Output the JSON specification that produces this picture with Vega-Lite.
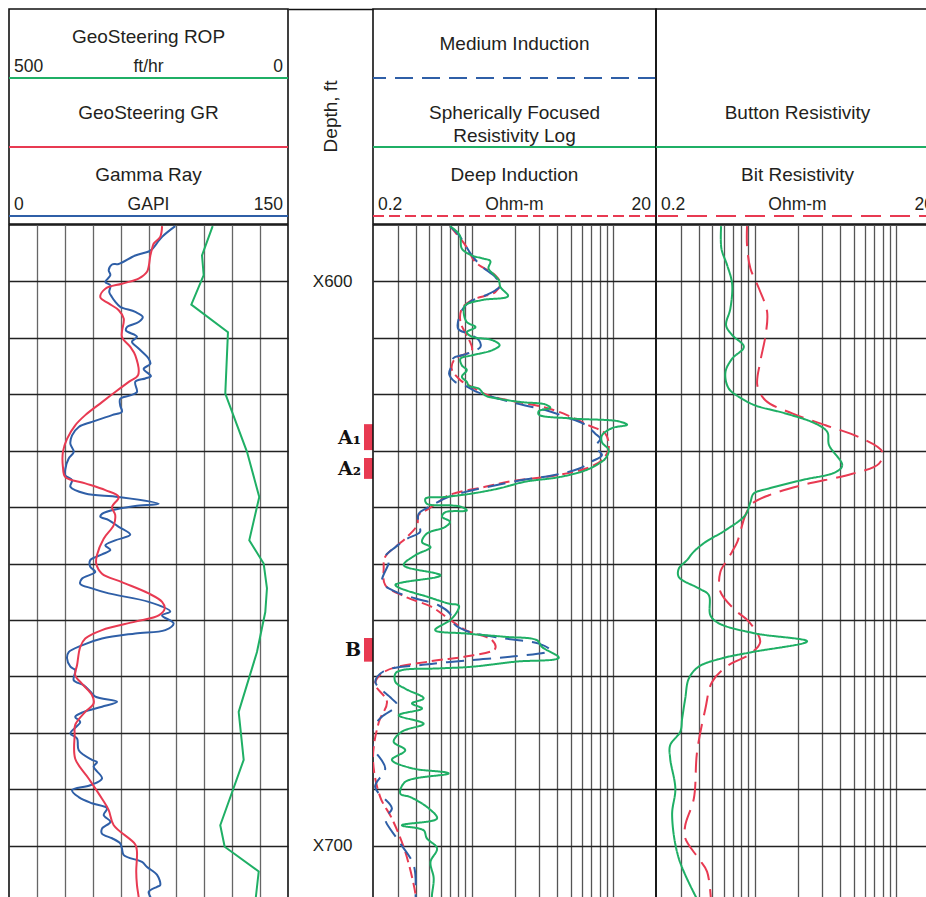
{
"$schema": "https://vega.github.io/schema/vega-lite/v6.json",
"padding": {"left": 7, "top": 8, "right": 0, "bottom": 0},
"background": "white",
"config": {
  "view": {"stroke": "#111111", "strokeWidth": 1.6},
  "axis": {"minExtent": 0},
  "text": {"font": "Liberation Sans", "color": "#231f20"}
},
"datasets": {
  "hdrLeft": [
    {"curve": "GeoSteering ROP", "title": "GeoSteering ROP", "lo": "500", "units": "ft/hr", "hi": "0"},
    {"curve": "GeoSteering GR", "title": "GeoSteering GR"},
    {"curve": "Gamma Ray", "title": "Gamma Ray", "lo": "0", "units": "GAPI", "hi": "150"}
  ],
  "hdrMid": [
    {"curve": "Medium Induction", "title": "Medium Induction"},
    {"curve": "Spherically Focused Resistivity Log", "title": "Spherically Focused\nResistivity Log"},
    {"curve": "Deep Induction", "title": "Deep Induction", "lo": "0.2", "units": "Ohm-m", "hi": "20"}
  ],
  "hdrRight": [
    {"curve": "Button Resistivity", "title": "Button Resistivity"},
    {"curve": "Bit Resistivity", "title": "Bit Resistivity", "lo": "0.2", "units": "Ohm-m", "hi": "20"}
  ],
  "zones": [
    {"zone": "A₁", "top": 625.3, "bottom": 629.9, "mid": 627.8},
    {"zone": "A₂", "top": 631.3, "bottom": 635.0, "mid": 633.3},
    {"zone": "B", "top": 663.2, "bottom": 667.4, "mid": 665.3}
  ],
  "logs": [
    {"curve":"Gamma Ray","depth":590.2,"value":89.4},{"curve":"Gamma Ray","depth":592.1,"value":82.3},{"curve":"Gamma Ray","depth":594.3,"value":76.9},{"curve":"Gamma Ray","depth":594.7,"value":75.1},{"curve":"Gamma Ray","depth":595.4,"value":67.9},{"curve":"Gamma Ray","depth":596.9,"value":59.0},{"curve":"Gamma Ray","depth":597.0,"value":55.4},{"curve":"Gamma Ray","depth":598.0,"value":53.6},{"curve":"Gamma Ray","depth":598.9,"value":54.5},{"curve":"Gamma Ray","depth":600.1,"value":51.8},{"curve":"Gamma Ray","depth":600.7,"value":54.5},{"curve":"Gamma Ray","depth":601.9,"value":53.9},{"curve":"Gamma Ray","depth":602.8,"value":55.4},{"curve":"Gamma Ray","depth":603.6,"value":57.1},{"curve":"Gamma Ray","depth":604.5,"value":59.8},{"curve":"Gamma Ray","depth":605.4,"value":67.9},{"curve":"Gamma Ray","depth":606.3,"value":71.9},{"curve":"Gamma Ray","depth":607.2,"value":69.7},{"curve":"Gamma Ray","depth":608.1,"value":63.4},{"curve":"Gamma Ray","depth":608.7,"value":62.9},{"curve":"Gamma Ray","depth":609.8,"value":68.8},{"curve":"Gamma Ray","depth":610.7,"value":66.1},{"curve":"Gamma Ray","depth":611.9,"value":69.7},{"curve":"Gamma Ray","depth":613.7,"value":75.1},{"curve":"Gamma Ray","depth":614.6,"value":76.0},{"curve":"Gamma Ray","depth":615.5,"value":72.4},{"curve":"Gamma Ray","depth":616.8,"value":76.3},{"curve":"Gamma Ray","depth":617.2,"value":73.3},{"curve":"Gamma Ray","depth":617.8,"value":67.9},{"curve":"Gamma Ray","depth":619.6,"value":68.8},{"curve":"Gamma Ray","depth":620.2,"value":65.2},{"curve":"Gamma Ray","depth":620.8,"value":59.8},{"curve":"Gamma Ray","depth":622.0,"value":59.8},{"curve":"Gamma Ray","depth":623.1,"value":60.7},{"curve":"Gamma Ray","depth":623.7,"value":55.4},{"curve":"Gamma Ray","depth":624.9,"value":44.6},{"curve":"Gamma Ray","depth":625.8,"value":37.5},{"curve":"Gamma Ray","depth":627.3,"value":33.9},{"curve":"Gamma Ray","depth":628.8,"value":33.0},{"curve":"Gamma Ray","depth":630.2,"value":34.8},{"curve":"Gamma Ray","depth":631.4,"value":32.1},{"curve":"Gamma Ray","depth":633.2,"value":30.3},{"curve":"Gamma Ray","depth":634.4,"value":30.3},{"curve":"Gamma Ray","depth":635.2,"value":33.9},{"curve":"Gamma Ray","depth":636.4,"value":33.0},{"curve":"Gamma Ray","depth":637.6,"value":41.0},{"curve":"Gamma Ray","depth":638.2,"value":59.0},{"curve":"Gamma Ray","depth":639.4,"value":80.5},{"curve":"Gamma Ray","depth":639.8,"value":67.9},{"curve":"Gamma Ray","depth":640.3,"value":59.0},{"curve":"Gamma Ray","depth":641.2,"value":50.0},{"curve":"Gamma Ray","depth":641.7,"value":49.1},{"curve":"Gamma Ray","depth":642.3,"value":53.6},{"curve":"Gamma Ray","depth":643.5,"value":59.0},{"curve":"Gamma Ray","depth":644.9,"value":65.2},{"curve":"Gamma Ray","depth":645.9,"value":57.1},{"curve":"Gamma Ray","depth":646.8,"value":51.8},{"curve":"Gamma Ray","depth":647.6,"value":54.5},{"curve":"Gamma Ray","depth":648.4,"value":50.0},{"curve":"Gamma Ray","depth":649.4,"value":43.7},{"curve":"Gamma Ray","depth":650.6,"value":43.7},{"curve":"Gamma Ray","depth":651.5,"value":46.4},{"curve":"Gamma Ray","depth":652.7,"value":39.2},{"curve":"Gamma Ray","depth":653.6,"value":38.3},{"curve":"Gamma Ray","depth":654.4,"value":44.6},{"curve":"Gamma Ray","depth":655.3,"value":53.6},{"curve":"Gamma Ray","depth":656.8,"value":75.1},{"curve":"Gamma Ray","depth":658.5,"value":86.7},{"curve":"Gamma Ray","depth":659.2,"value":82.3},{"curve":"Gamma Ray","depth":660.6,"value":88.5},{"curve":"Gamma Ray","depth":661.8,"value":84.0},{"curve":"Gamma Ray","depth":662.4,"value":67.9},{"curve":"Gamma Ray","depth":663.3,"value":50.0},{"curve":"Gamma Ray","depth":664.5,"value":39.2},{"curve":"Gamma Ray","depth":665.7,"value":32.1},{"curve":"Gamma Ray","depth":666.8,"value":31.2},{"curve":"Gamma Ray","depth":668.3,"value":33.0},{"curve":"Gamma Ray","depth":668.9,"value":35.6},{"curve":"Gamma Ray","depth":670.7,"value":34.8},{"curve":"Gamma Ray","depth":671.6,"value":40.2},{"curve":"Gamma Ray","depth":672.7,"value":43.7},{"curve":"Gamma Ray","depth":673.6,"value":46.4},{"curve":"Gamma Ray","depth":674.5,"value":58.1},{"curve":"Gamma Ray","depth":675.4,"value":50.0},{"curve":"Gamma Ray","depth":676.3,"value":40.2},{"curve":"Gamma Ray","depth":677.2,"value":35.6},{"curve":"Gamma Ray","depth":678.1,"value":38.3},{"curve":"Gamma Ray","depth":680.1,"value":33.0},{"curve":"Gamma Ray","depth":681.0,"value":36.6},{"curve":"Gamma Ray","depth":683.1,"value":37.5},{"curve":"Gamma Ray","depth":684.8,"value":44.6},{"curve":"Gamma Ray","depth":685.2,"value":47.3},{"curve":"Gamma Ray","depth":686.0,"value":45.5},{"curve":"Gamma Ray","depth":688.1,"value":50.0},{"curve":"Gamma Ray","depth":689.3,"value":43.7},{"curve":"Gamma Ray","depth":690.2,"value":33.9},{"curve":"Gamma Ray","depth":691.4,"value":37.5},{"curve":"Gamma Ray","depth":692.5,"value":44.6},{"curve":"Gamma Ray","depth":693.4,"value":52.7},{"curve":"Gamma Ray","depth":694.6,"value":50.9},{"curve":"Gamma Ray","depth":695.8,"value":54.5},{"curve":"Gamma Ray","depth":697.0,"value":50.0},{"curve":"Gamma Ray","depth":697.9,"value":50.0},{"curve":"Gamma Ray","depth":698.7,"value":55.4},{"curve":"Gamma Ray","depth":699.6,"value":59.8},{"curve":"Gamma Ray","depth":700.5,"value":60.7},{"curve":"Gamma Ray","depth":701.7,"value":61.7},{"curve":"Gamma Ray","depth":702.9,"value":71.5},{"curve":"Gamma Ray","depth":703.8,"value":74.2},{"curve":"Gamma Ray","depth":705.2,"value":79.6},{"curve":"Gamma Ray","depth":707.0,"value":81.3},{"curve":"Gamma Ray","depth":707.3,"value":79.6},{"curve":"Gamma Ray","depth":708.2,"value":75.1},{"curve":"Gamma Ray","depth":709.1,"value":76.0},{"curve":"Gamma Ray","depth":710.0,"value":77.0},

    {"curve":"GeoSteering GR","depth":590.2,"value":82.3},{"curve":"GeoSteering GR","depth":592.1,"value":81.3},{"curve":"GeoSteering GR","depth":593.3,"value":77.8},{"curve":"GeoSteering GR","depth":594.2,"value":76.9},{"curve":"GeoSteering GR","depth":595.4,"value":76.0},{"curve":"GeoSteering GR","depth":598.3,"value":74.2},{"curve":"GeoSteering GR","depth":599.5,"value":69.7},{"curve":"GeoSteering GR","depth":600.4,"value":60.7},{"curve":"GeoSteering GR","depth":601.3,"value":51.8},{"curve":"GeoSteering GR","depth":602.8,"value":49.1},{"curve":"GeoSteering GR","depth":603.9,"value":53.6},{"curve":"GeoSteering GR","depth":605.1,"value":59.0},{"curve":"GeoSteering GR","depth":606.6,"value":61.7},{"curve":"GeoSteering GR","depth":609.8,"value":60.7},{"curve":"GeoSteering GR","depth":611.6,"value":65.2},{"curve":"GeoSteering GR","depth":613.1,"value":67.9},{"curve":"GeoSteering GR","depth":616.6,"value":69.4},{"curve":"GeoSteering GR","depth":617.8,"value":64.4},{"curve":"GeoSteering GR","depth":619.6,"value":57.1},{"curve":"GeoSteering GR","depth":621.4,"value":50.0},{"curve":"GeoSteering GR","depth":623.7,"value":41.0},{"curve":"GeoSteering GR","depth":625.5,"value":35.6},{"curve":"GeoSteering GR","depth":627.9,"value":31.2},{"curve":"GeoSteering GR","depth":630.2,"value":29.0},{"curve":"GeoSteering GR","depth":632.9,"value":29.0},{"curve":"GeoSteering GR","depth":634.7,"value":30.3},{"curve":"GeoSteering GR","depth":635.8,"value":41.0},{"curve":"GeoSteering GR","depth":637.0,"value":51.8},{"curve":"GeoSteering GR","depth":638.2,"value":59.0},{"curve":"GeoSteering GR","depth":640.0,"value":55.4},{"curve":"GeoSteering GR","depth":641.4,"value":57.1},{"curve":"GeoSteering GR","depth":643.2,"value":56.3},{"curve":"GeoSteering GR","depth":645.6,"value":50.9},{"curve":"GeoSteering GR","depth":648.5,"value":47.3},{"curve":"GeoSteering GR","depth":650.0,"value":46.9},{"curve":"GeoSteering GR","depth":651.8,"value":50.0},{"curve":"GeoSteering GR","depth":653.3,"value":60.7},{"curve":"GeoSteering GR","depth":655.3,"value":75.1},{"curve":"GeoSteering GR","depth":656.8,"value":82.3},{"curve":"GeoSteering GR","depth":658.0,"value":83.7},{"curve":"GeoSteering GR","depth":659.2,"value":80.5},{"curve":"GeoSteering GR","depth":660.3,"value":67.9},{"curve":"GeoSteering GR","depth":661.8,"value":50.0},{"curve":"GeoSteering GR","depth":663.3,"value":41.0},{"curve":"GeoSteering GR","depth":664.8,"value":38.3},{"curve":"GeoSteering GR","depth":668.0,"value":36.6},{"curve":"GeoSteering GR","depth":669.8,"value":35.6},{"curve":"GeoSteering GR","depth":671.3,"value":39.2},{"curve":"GeoSteering GR","depth":673.3,"value":44.6},{"curve":"GeoSteering GR","depth":674.8,"value":45.5},{"curve":"GeoSteering GR","depth":676.3,"value":41.0},{"curve":"GeoSteering GR","depth":678.6,"value":35.6},{"curve":"GeoSteering GR","depth":680.4,"value":35.3},{"curve":"GeoSteering GR","depth":684.6,"value":35.6},{"curve":"GeoSteering GR","depth":688.1,"value":42.8},{"curve":"GeoSteering GR","depth":691.7,"value":50.0},{"curve":"GeoSteering GR","depth":693.7,"value":53.6},{"curve":"GeoSteering GR","depth":696.4,"value":56.3},{"curve":"GeoSteering GR","depth":699.8,"value":67.9},{"curve":"GeoSteering GR","depth":701.1,"value":68.8},{"curve":"GeoSteering GR","depth":704.6,"value":68.4},{"curve":"GeoSteering GR","depth":707.0,"value":68.8},{"curve":"GeoSteering GR","depth":709.1,"value":69.7},{"curve":"GeoSteering GR","depth":710.0,"value":70.0},

    {"curve":"GeoSteering ROP","depth":590.2,"value":135.0},{"curve":"GeoSteering ROP","depth":595.4,"value":154.1},{"curve":"GeoSteering ROP","depth":598.9,"value":151.1},{"curve":"GeoSteering ROP","depth":604.1,"value":173.3},{"curve":"GeoSteering ROP","depth":609.0,"value":107.6},{"curve":"GeoSteering ROP","depth":619.9,"value":112.4},{"curve":"GeoSteering ROP","depth":630.2,"value":73.5},{"curve":"GeoSteering ROP","depth":638.2,"value":51.5},{"curve":"GeoSteering ROP","depth":645.9,"value":69.4},{"curve":"GeoSteering ROP","depth":650.0,"value":43.6},{"curve":"GeoSteering ROP","depth":654.4,"value":37.7},{"curve":"GeoSteering ROP","depth":658.6,"value":40.7},{"curve":"GeoSteering ROP","depth":665.7,"value":55.6},{"curve":"GeoSteering ROP","depth":676.3,"value":88.4},{"curve":"GeoSteering ROP","depth":684.8,"value":79.4},{"curve":"GeoSteering ROP","depth":696.4,"value":121.4},{"curve":"GeoSteering ROP","depth":700.2,"value":113.5},{"curve":"GeoSteering ROP","depth":704.6,"value":52.5},{"curve":"GeoSteering ROP","depth":710.0,"value":58.6},

    {"curve":"Medium Induction","depth":590.2,"value":0.70},{"curve":"Medium Induction","depth":591.8,"value":0.81},{"curve":"Medium Induction","depth":595.4,"value":1.00},{"curve":"Medium Induction","depth":597.4,"value":1.18},{"curve":"Medium Induction","depth":599.2,"value":1.46},{"curve":"Medium Induction","depth":600.7,"value":1.59},{"curve":"Medium Induction","depth":601.6,"value":1.46},{"curve":"Medium Induction","depth":602.5,"value":1.24},{"curve":"Medium Induction","depth":603.6,"value":0.97},{"curve":"Medium Induction","depth":605.1,"value":0.85},{"curve":"Medium Induction","depth":608.4,"value":0.80},{"curve":"Medium Induction","depth":609.3,"value":0.95},{"curve":"Medium Induction","depth":610.4,"value":1.12},{"curve":"Medium Induction","depth":611.6,"value":1.15},{"curve":"Medium Induction","depth":612.5,"value":1.00},{"curve":"Medium Induction","depth":613.1,"value":0.85},{"curve":"Medium Induction","depth":613.6,"value":0.74},{"curve":"Medium Induction","depth":614.9,"value":0.72},{"curve":"Medium Induction","depth":616.4,"value":0.69},{"curve":"Medium Induction","depth":617.8,"value":0.76},{"curve":"Medium Induction","depth":618.5,"value":0.90},{"curve":"Medium Induction","depth":619.5,"value":1.06},{"curve":"Medium Induction","depth":620.3,"value":1.31},{"curve":"Medium Induction","depth":621.1,"value":1.72},{"curve":"Medium Induction","depth":622.0,"value":2.38},{"curve":"Medium Induction","depth":622.8,"value":3.30},{"curve":"Medium Induction","depth":624.0,"value":4.57},{"curve":"Medium Induction","depth":625.4,"value":6.33},{"curve":"Medium Induction","depth":627.0,"value":7.45},{"curve":"Medium Induction","depth":627.9,"value":8.08},{"curve":"Medium Induction","depth":629.3,"value":7.45},{"curve":"Medium Induction","depth":630.8,"value":8.30},{"curve":"Medium Induction","depth":631.9,"value":7.06},{"curve":"Medium Induction","depth":633.2,"value":5.68},{"curve":"Medium Induction","depth":634.4,"value":3.68},{"curve":"Medium Induction","depth":635.2,"value":2.26},{"curve":"Medium Induction","depth":636.4,"value":1.31},{"curve":"Medium Induction","depth":637.3,"value":0.90},{"curve":"Medium Induction","depth":638.2,"value":0.685},{"curve":"Medium Induction","depth":640.0,"value":0.495},{"curve":"Medium Induction","depth":641.2,"value":0.42},{"curve":"Medium Induction","depth":642.9,"value":0.42},{"curve":"Medium Induction","depth":644.4,"value":0.43},{"curve":"Medium Induction","depth":645.6,"value":0.348},{"curve":"Medium Induction","depth":647.1,"value":0.288},{"curve":"Medium Induction","depth":648.8,"value":0.244},{"curve":"Medium Induction","depth":649.7,"value":0.258},{"curve":"Medium Induction","depth":653.3,"value":0.232},{"curve":"Medium Induction","depth":655.0,"value":0.288},{"curve":"Medium Induction","depth":656.2,"value":0.40},{"curve":"Medium Induction","depth":657.4,"value":0.58},{"curve":"Medium Induction","depth":658.9,"value":0.70},{"curve":"Medium Induction","depth":660.6,"value":0.74},{"curve":"Medium Induction","depth":662.1,"value":0.95},{"curve":"Medium Induction","depth":663.3,"value":1.72},{"curve":"Medium Induction","depth":664.2,"value":2.97},{"curve":"Medium Induction","depth":665.4,"value":3.58},{"curve":"Medium Induction","depth":666.5,"value":1.92},{"curve":"Medium Induction","depth":667.1,"value":1.00},{"curve":"Medium Induction","depth":667.9,"value":0.47},{"curve":"Medium Induction","depth":669.1,"value":0.238},{"curve":"Medium Induction","depth":671.0,"value":0.208},{"curve":"Medium Induction","depth":673.9,"value":0.27},{"curve":"Medium Induction","depth":675.1,"value":0.296},{"curve":"Medium Induction","depth":677.2,"value":0.23},{"curve":"Medium Induction","depth":679.2,"value":0.20},{"curve":"Medium Induction","depth":682.5,"value":0.20},{"curve":"Medium Induction","depth":686.3,"value":0.244},{"curve":"Medium Induction","depth":689.6,"value":0.207},{"curve":"Medium Induction","depth":693.4,"value":0.272},{"curve":"Medium Induction","depth":695.2,"value":0.244},{"curve":"Medium Induction","depth":699.0,"value":0.30},{"curve":"Medium Induction","depth":703.5,"value":0.388},{"curve":"Medium Induction","depth":708.8,"value":0.40},{"curve":"Medium Induction","depth":710.0,"value":0.40},

    {"curve":"Deep Induction","depth":590.2,"value":0.70},{"curve":"Deep Induction","depth":593.6,"value":0.90},{"curve":"Deep Induction","depth":596.6,"value":1.06},{"curve":"Deep Induction","depth":598.9,"value":1.46},{"curve":"Deep Induction","depth":600.4,"value":1.59},{"curve":"Deep Induction","depth":601.9,"value":1.46},{"curve":"Deep Induction","depth":603.3,"value":1.00},{"curve":"Deep Induction","depth":604.8,"value":0.85},{"curve":"Deep Induction","depth":607.2,"value":0.83},{"curve":"Deep Induction","depth":610.2,"value":0.95},{"curve":"Deep Induction","depth":612.2,"value":1.00},{"curve":"Deep Induction","depth":613.7,"value":0.76},{"curve":"Deep Induction","depth":615.5,"value":0.72},{"curve":"Deep Induction","depth":617.5,"value":0.83},{"curve":"Deep Induction","depth":618.7,"value":1.00},{"curve":"Deep Induction","depth":620.2,"value":1.31},{"curve":"Deep Induction","depth":621.2,"value":1.92},{"curve":"Deep Induction","depth":622.1,"value":2.97},{"curve":"Deep Induction","depth":623.1,"value":4.11},{"curve":"Deep Induction","depth":625.5,"value":6.69},{"curve":"Deep Induction","depth":627.0,"value":8.77},{"curve":"Deep Induction","depth":629.6,"value":9.26},{"curve":"Deep Induction","depth":631.7,"value":8.30},{"curve":"Deep Induction","depth":633.2,"value":6.33},{"curve":"Deep Induction","depth":634.4,"value":3.89},{"curve":"Deep Induction","depth":635.4,"value":1.92},{"curve":"Deep Induction","depth":636.4,"value":1.24},{"curve":"Deep Induction","depth":637.9,"value":0.685},{"curve":"Deep Induction","depth":639.1,"value":0.58},{"curve":"Deep Induction","depth":640.3,"value":0.495},{"curve":"Deep Induction","depth":641.4,"value":0.42},{"curve":"Deep Induction","depth":643.2,"value":0.41},{"curve":"Deep Induction","depth":645.6,"value":0.338},{"curve":"Deep Induction","depth":648.8,"value":0.244},{"curve":"Deep Induction","depth":650.9,"value":0.238},{"curve":"Deep Induction","depth":653.8,"value":0.244},{"curve":"Deep Induction","depth":655.9,"value":0.338},{"curve":"Deep Induction","depth":657.7,"value":0.52},{"curve":"Deep Induction","depth":659.8,"value":0.685},{"curve":"Deep Induction","depth":661.8,"value":0.90},{"curve":"Deep Induction","depth":663.6,"value":1.39},{"curve":"Deep Induction","depth":665.1,"value":1.46},{"curve":"Deep Induction","depth":666.5,"value":0.90},{"curve":"Deep Induction","depth":667.3,"value":0.52},{"curve":"Deep Induction","depth":669.1,"value":0.244},{"curve":"Deep Induction","depth":671.3,"value":0.207},{"curve":"Deep Induction","depth":674.5,"value":0.251},{"curve":"Deep Induction","depth":678.1,"value":0.22},{"curve":"Deep Induction","depth":684.6,"value":0.20},{"curve":"Deep Induction","depth":691.4,"value":0.225},{"curve":"Deep Induction","depth":695.2,"value":0.272},{"curve":"Deep Induction","depth":701.1,"value":0.338},{"curve":"Deep Induction","depth":708.8,"value":0.40},{"curve":"Deep Induction","depth":710.0,"value":0.40},

    {"curve":"Spherically Focused Resistivity Log","depth":590.2,"value":0.70},{"curve":"Spherically Focused Resistivity Log","depth":591.8,"value":0.82},{"curve":"Spherically Focused Resistivity Log","depth":594.2,"value":0.85},{"curve":"Spherically Focused Resistivity Log","depth":595.4,"value":1.00},{"curve":"Spherically Focused Resistivity Log","depth":595.9,"value":1.18},{"curve":"Spherically Focused Resistivity Log","depth":596.4,"value":1.35},{"curve":"Spherically Focused Resistivity Log","depth":597.7,"value":1.31},{"curve":"Spherically Focused Resistivity Log","depth":598.8,"value":1.43},{"curve":"Spherically Focused Resistivity Log","depth":599.8,"value":1.55},{"curve":"Spherically Focused Resistivity Log","depth":601.0,"value":1.59},{"curve":"Spherically Focused Resistivity Log","depth":602.6,"value":1.80},{"curve":"Spherically Focused Resistivity Log","depth":603.3,"value":1.18},{"curve":"Spherically Focused Resistivity Log","depth":604.2,"value":0.90},{"curve":"Spherically Focused Resistivity Log","depth":605.4,"value":0.875},{"curve":"Spherically Focused Resistivity Log","depth":607.2,"value":0.92},{"curve":"Spherically Focused Resistivity Log","depth":608.1,"value":1.06},{"curve":"Spherically Focused Resistivity Log","depth":609.0,"value":0.92},{"curve":"Spherically Focused Resistivity Log","depth":609.8,"value":1.00},{"curve":"Spherically Focused Resistivity Log","depth":610.4,"value":1.39},{"curve":"Spherically Focused Resistivity Log","depth":611.3,"value":1.57},{"curve":"Spherically Focused Resistivity Log","depth":612.2,"value":1.39},{"curve":"Spherically Focused Resistivity Log","depth":613.1,"value":1.00},{"curve":"Spherically Focused Resistivity Log","depth":613.7,"value":0.83},{"curve":"Spherically Focused Resistivity Log","depth":614.9,"value":0.85},{"curve":"Spherically Focused Resistivity Log","depth":615.7,"value":0.92},{"curve":"Spherically Focused Resistivity Log","depth":616.9,"value":0.85},{"curve":"Spherically Focused Resistivity Log","depth":617.8,"value":0.92},{"curve":"Spherically Focused Resistivity Log","depth":618.5,"value":0.95},{"curve":"Spherically Focused Resistivity Log","depth":619.0,"value":1.12},{"curve":"Spherically Focused Resistivity Log","depth":620.2,"value":1.24},{"curve":"Spherically Focused Resistivity Log","depth":620.8,"value":1.55},{"curve":"Spherically Focused Resistivity Log","depth":621.4,"value":2.26},{"curve":"Spherically Focused Resistivity Log","depth":621.8,"value":3.30},{"curve":"Spherically Focused Resistivity Log","depth":622.4,"value":3.58},{"curve":"Spherically Focused Resistivity Log","depth":623.0,"value":2.97},{"curve":"Spherically Focused Resistivity Log","depth":623.6,"value":2.97},{"curve":"Spherically Focused Resistivity Log","depth":624.3,"value":5.10},{"curve":"Spherically Focused Resistivity Log","depth":624.8,"value":10.9},{"curve":"Spherically Focused Resistivity Log","depth":625.4,"value":12.5},{"curve":"Spherically Focused Resistivity Log","depth":626.0,"value":9.78},{"curve":"Spherically Focused Resistivity Log","depth":627.3,"value":8.30},{"curve":"Spherically Focused Resistivity Log","depth":628.5,"value":8.30},{"curve":"Spherically Focused Resistivity Log","depth":629.9,"value":9.26},{"curve":"Spherically Focused Resistivity Log","depth":631.4,"value":8.77},{"curve":"Spherically Focused Resistivity Log","depth":632.3,"value":7.87},{"curve":"Spherically Focused Resistivity Log","depth":633.5,"value":6.33},{"curve":"Spherically Focused Resistivity Log","depth":634.7,"value":4.11},{"curve":"Spherically Focused Resistivity Log","depth":635.5,"value":2.38},{"curve":"Spherically Focused Resistivity Log","depth":636.7,"value":1.55},{"curve":"Spherically Focused Resistivity Log","depth":637.6,"value":1.00},{"curve":"Spherically Focused Resistivity Log","depth":638.2,"value":0.65},{"curve":"Spherically Focused Resistivity Log","depth":638.5,"value":0.47},{"curve":"Spherically Focused Resistivity Log","depth":639.4,"value":0.48},{"curve":"Spherically Focused Resistivity Log","depth":639.7,"value":0.72},{"curve":"Spherically Focused Resistivity Log","depth":640.0,"value":0.85},{"curve":"Spherically Focused Resistivity Log","depth":640.6,"value":0.92},{"curve":"Spherically Focused Resistivity Log","depth":640.9,"value":0.65},{"curve":"Spherically Focused Resistivity Log","depth":641.7,"value":0.615},{"curve":"Spherically Focused Resistivity Log","depth":642.6,"value":0.70},{"curve":"Spherically Focused Resistivity Log","depth":643.5,"value":0.65},{"curve":"Spherically Focused Resistivity Log","depth":644.7,"value":0.48},{"curve":"Spherically Focused Resistivity Log","depth":646.2,"value":0.444},{"curve":"Spherically Focused Resistivity Log","depth":647.1,"value":0.51},{"curve":"Spherically Focused Resistivity Log","depth":648.5,"value":0.40},{"curve":"Spherically Focused Resistivity Log","depth":650.3,"value":0.33},{"curve":"Spherically Focused Resistivity Log","depth":652.1,"value":0.60},{"curve":"Spherically Focused Resistivity Log","depth":653.8,"value":0.288},{"curve":"Spherically Focused Resistivity Log","depth":655.3,"value":0.40},{"curve":"Spherically Focused Resistivity Log","depth":655.6,"value":0.444},{"curve":"Spherically Focused Resistivity Log","depth":657.1,"value":0.685},{"curve":"Spherically Focused Resistivity Log","depth":657.5,"value":0.81},{"curve":"Spherically Focused Resistivity Log","depth":659.8,"value":0.72},{"curve":"Spherically Focused Resistivity Log","depth":661.8,"value":0.55},{"curve":"Spherically Focused Resistivity Log","depth":662.4,"value":0.90},{"curve":"Spherically Focused Resistivity Log","depth":663.0,"value":1.72},{"curve":"Spherically Focused Resistivity Log","depth":663.6,"value":2.88},{"curve":"Spherically Focused Resistivity Log","depth":664.8,"value":3.13},{"curve":"Spherically Focused Resistivity Log","depth":666.7,"value":4.11},{"curve":"Spherically Focused Resistivity Log","depth":667.4,"value":2.03},{"curve":"Spherically Focused Resistivity Log","depth":668.3,"value":1.00},{"curve":"Spherically Focused Resistivity Log","depth":668.6,"value":0.58},{"curve":"Spherically Focused Resistivity Log","depth":668.9,"value":0.32},{"curve":"Spherically Focused Resistivity Log","depth":669.5,"value":0.288},{"curve":"Spherically Focused Resistivity Log","depth":671.0,"value":0.288},{"curve":"Spherically Focused Resistivity Log","depth":672.2,"value":0.338},{"curve":"Spherically Focused Resistivity Log","depth":673.9,"value":0.456},{"curve":"Spherically Focused Resistivity Log","depth":674.8,"value":0.377},{"curve":"Spherically Focused Resistivity Log","depth":675.7,"value":0.444},{"curve":"Spherically Focused Resistivity Log","depth":676.9,"value":0.304},{"curve":"Spherically Focused Resistivity Log","depth":678.4,"value":0.456},{"curve":"Spherically Focused Resistivity Log","depth":679.8,"value":0.32},{"curve":"Spherically Focused Resistivity Log","depth":681.6,"value":0.28},{"curve":"Spherically Focused Resistivity Log","depth":683.1,"value":0.338},{"curve":"Spherically Focused Resistivity Log","depth":684.8,"value":0.272},{"curve":"Spherically Focused Resistivity Log","depth":686.3,"value":0.377},{"curve":"Spherically Focused Resistivity Log","depth":687.2,"value":0.685},{"curve":"Spherically Focused Resistivity Log","depth":688.7,"value":0.338},{"curve":"Spherically Focused Resistivity Log","depth":690.8,"value":0.312},{"curve":"Spherically Focused Resistivity Log","depth":691.4,"value":0.367},{"curve":"Spherically Focused Resistivity Log","depth":693.4,"value":0.495},{"curve":"Spherically Focused Resistivity Log","depth":695.2,"value":0.567},{"curve":"Spherically Focused Resistivity Log","depth":696.4,"value":0.32},{"curve":"Spherically Focused Resistivity Log","depth":697.3,"value":0.456},{"curve":"Spherically Focused Resistivity Log","depth":698.7,"value":0.48},{"curve":"Spherically Focused Resistivity Log","depth":700.5,"value":0.567},{"curve":"Spherically Focused Resistivity Log","depth":702.9,"value":0.51},{"curve":"Spherically Focused Resistivity Log","depth":705.8,"value":0.537},{"curve":"Spherically Focused Resistivity Log","depth":708.8,"value":0.522},{"curve":"Spherically Focused Resistivity Log","depth":710.0,"value":0.52},

    {"curve":"Bit Resistivity","depth":590.2,"value":0.88},{"curve":"Bit Resistivity","depth":593.6,"value":0.88},{"curve":"Bit Resistivity","depth":597.7,"value":0.93},{"curve":"Bit Resistivity","depth":601.3,"value":1.07},{"curve":"Bit Resistivity","depth":605.4,"value":1.22},{"curve":"Bit Resistivity","depth":609.5,"value":1.19},{"curve":"Bit Resistivity","depth":614.3,"value":1.09},{"curve":"Bit Resistivity","depth":618.4,"value":1.04},{"curve":"Bit Resistivity","depth":621.1,"value":1.19},{"curve":"Bit Resistivity","depth":623.4,"value":1.835},{"curve":"Bit Resistivity","depth":625.5,"value":3.16},{"curve":"Bit Resistivity","depth":627.6,"value":5.44},{"curve":"Bit Resistivity","depth":630.2,"value":7.95},{"curve":"Bit Resistivity","depth":632.3,"value":7.54},{"curve":"Bit Resistivity","depth":634.1,"value":4.88},{"curve":"Bit Resistivity","depth":636.1,"value":2.16},{"curve":"Bit Resistivity","depth":637.9,"value":1.255},{"curve":"Bit Resistivity","depth":639.4,"value":0.956},{"curve":"Bit Resistivity","depth":641.4,"value":0.857},{"curve":"Bit Resistivity","depth":646.2,"value":0.75},{"curve":"Bit Resistivity","depth":647.9,"value":0.69},{"curve":"Bit Resistivity","depth":649.4,"value":0.636},{"curve":"Bit Resistivity","depth":651.5,"value":0.57},{"curve":"Bit Resistivity","depth":655.0,"value":0.57},{"curve":"Bit Resistivity","depth":658.3,"value":0.728},{"curve":"Bit Resistivity","depth":660.3,"value":0.906},{"curve":"Bit Resistivity","depth":663.9,"value":1.09},{"curve":"Bit Resistivity","depth":666.2,"value":0.906},{"curve":"Bit Resistivity","depth":668.0,"value":0.654},{"curve":"Bit Resistivity","depth":671.0,"value":0.498},{"curve":"Bit Resistivity","depth":675.7,"value":0.447},{"curve":"Bit Resistivity","depth":683.4,"value":0.39},{"curve":"Bit Resistivity","depth":691.7,"value":0.37},{"curve":"Bit Resistivity","depth":696.4,"value":0.322},{"curve":"Bit Resistivity","depth":698.7,"value":0.322},{"curve":"Bit Resistivity","depth":702.3,"value":0.40},{"curve":"Bit Resistivity","depth":704.6,"value":0.459},{"curve":"Bit Resistivity","depth":710.0,"value":0.49},

    {"curve":"Button Resistivity","depth":590.2,"value":0.577},{"curve":"Button Resistivity","depth":594.2,"value":0.58},{"curve":"Button Resistivity","depth":597.1,"value":0.636},{"curve":"Button Resistivity","depth":600.4,"value":0.69},{"curve":"Button Resistivity","depth":604.8,"value":0.671},{"curve":"Button Resistivity","depth":607.8,"value":0.626},{"curve":"Button Resistivity","depth":609.5,"value":0.69},{"curve":"Button Resistivity","depth":611.6,"value":0.835},{"curve":"Button Resistivity","depth":613.7,"value":0.69},{"curve":"Button Resistivity","depth":616.1,"value":0.619},{"curve":"Button Resistivity","depth":619.0,"value":0.654},{"curve":"Button Resistivity","depth":620.8,"value":0.812},{"curve":"Button Resistivity","depth":622.0,"value":1.01},{"curve":"Button Resistivity","depth":623.4,"value":1.645},{"curve":"Button Resistivity","depth":625.2,"value":2.68},{"curve":"Button Resistivity","depth":626.7,"value":3.25},{"curve":"Button Resistivity","depth":629.0,"value":3.34},{"curve":"Button Resistivity","depth":632.6,"value":4.14},{"curve":"Button Resistivity","depth":633.8,"value":3.72},{"curve":"Button Resistivity","depth":635.2,"value":2.16},{"curve":"Button Resistivity","depth":636.7,"value":1.255},{"curve":"Button Resistivity","depth":637.6,"value":0.98},{"curve":"Button Resistivity","depth":639.1,"value":0.93},{"curve":"Button Resistivity","depth":641.4,"value":0.857},{"curve":"Button Resistivity","depth":644.1,"value":0.619},{"curve":"Button Resistivity","depth":646.2,"value":0.447},{"curve":"Button Resistivity","depth":647.9,"value":0.37},{"curve":"Button Resistivity","depth":649.4,"value":0.331},{"curve":"Button Resistivity","depth":650.9,"value":0.29},{"curve":"Button Resistivity","depth":652.4,"value":0.29},{"curve":"Button Resistivity","depth":654.4,"value":0.40},{"curve":"Button Resistivity","depth":655.6,"value":0.472},{"curve":"Button Resistivity","depth":659.2,"value":0.485},{"curve":"Button Resistivity","depth":660.6,"value":0.556},{"curve":"Button Resistivity","depth":662.4,"value":1.01},{"curve":"Button Resistivity","depth":663.8,"value":2.34},{"curve":"Button Resistivity","depth":665.7,"value":0.956},{"curve":"Button Resistivity","depth":666.8,"value":0.586},{"curve":"Button Resistivity","depth":668.3,"value":0.40},{"curve":"Button Resistivity","depth":670.4,"value":0.341},{"curve":"Button Resistivity","depth":673.9,"value":0.322},{"curve":"Button Resistivity","depth":677.5,"value":0.306},{"curve":"Button Resistivity","depth":679.8,"value":0.297},{"curve":"Button Resistivity","depth":682.2,"value":0.252},{"curve":"Button Resistivity","depth":684.6,"value":0.252},{"curve":"Button Resistivity","depth":689.9,"value":0.274},{"curve":"Button Resistivity","depth":694.6,"value":0.26},{"curve":"Button Resistivity","depth":702.3,"value":0.29},{"curve":"Button Resistivity","depth":710.0,"value":0.40}
  ]
},
"spacing": -3,
"vconcat": [
  {
    "spacing": 0,
    "bounds": "flush",
    "hconcat": [
      {
        "width": 279, "height": 215,
        "data": {"name": "hdrLeft"},
        "layer": [
          {"mark": {"type": "rule", "strokeWidth": 2.2},
           "encoding": {
             "y": {"field": "curve", "type": "nominal", "bandPosition": 1, "axis": null, "scale": {"type": "band", "domain": ["GeoSteering ROP", "GeoSteering GR", "Gamma Ray"], "range": [0, 207], "paddingInner": 0, "paddingOuter": 0}},
             "color": {"field": "curve", "type": "nominal", "legend": null, "scale": {"domain": ["GeoSteering ROP","GeoSteering GR","Gamma Ray","Medium Induction","Spherically Focused Resistivity Log","Deep Induction","Button Resistivity","Bit Resistivity"], "range": ["#1faf65","#e83a52","#2f5fa7","#2f5fa7","#1faf65","#e83a52","#1faf65","#e83a52"]}},
             "strokeDash": {"field": "curve", "type": "nominal", "legend": null, "scale": {"domain": ["GeoSteering ROP","GeoSteering GR","Gamma Ray","Medium Induction","Spherically Focused Resistivity Log","Deep Induction","Button Resistivity","Bit Resistivity"], "range": [[1,0],[1,0],[1,0],[18,9],[1,0],[11,5],[1,0],[20,9]]}}
           }},
          {"transform": [{"filter": "isValid(datum.units)"}],
           "mark": {"type": "text", "fontSize": 19, "baseline": "middle"},
           "encoding": {
             "y": {"field": "curve", "type": "nominal", "bandPosition": 0.4, "axis": null, "scale": {"type": "band", "domain": ["GeoSteering ROP", "GeoSteering GR", "Gamma Ray"], "range": [0, 207], "paddingInner": 0, "paddingOuter": 0}},
             "text": {"field": "title"}
           }},
          {"transform": [{"filter": "!isValid(datum.units)"}],
           "mark": {"type": "text", "fontSize": 19, "baseline": "middle", "lineBreak": "\n", "lineHeight": 23},
           "encoding": {
             "y": {"field": "curve", "type": "nominal", "bandPosition": 0.5, "axis": null, "scale": {"type": "band", "domain": ["GeoSteering ROP", "GeoSteering GR", "Gamma Ray"], "range": [0, 207], "paddingInner": 0, "paddingOuter": 0}},
             "text": {"field": "title"}
           }},
          {"transform": [{"filter": "isValid(datum.units)"}],
           "mark": {"type": "text", "fontSize": 17.5, "baseline": "middle", "align": "left", "x": 0, "dx": 5},
           "encoding": {
             "y": {"field": "curve", "type": "nominal", "bandPosition": 0.835, "axis": null, "scale": {"type": "band", "domain": ["GeoSteering ROP", "GeoSteering GR", "Gamma Ray"], "range": [0, 207], "paddingInner": 0, "paddingOuter": 0}},
             "text": {"field": "lo"}
           }},
          {"transform": [{"filter": "isValid(datum.units)"}],
           "mark": {"type": "text", "fontSize": 17.5, "baseline": "middle", "align": "center"},
           "encoding": {
             "y": {"field": "curve", "type": "nominal", "bandPosition": 0.835, "axis": null, "scale": {"type": "band", "domain": ["GeoSteering ROP", "GeoSteering GR", "Gamma Ray"], "range": [0, 207], "paddingInner": 0, "paddingOuter": 0}},
             "text": {"field": "units"}
           }},
          {"transform": [{"filter": "isValid(datum.units)"}],
           "mark": {"type": "text", "fontSize": 17.5, "baseline": "middle", "align": "right", "x": "width", "dx": -5},
           "encoding": {
             "y": {"field": "curve", "type": "nominal", "bandPosition": 0.835, "axis": null, "scale": {"type": "band", "domain": ["GeoSteering ROP", "GeoSteering GR", "Gamma Ray"], "range": [0, 207], "paddingInner": 0, "paddingOuter": 0}},
             "text": {"field": "hi"}
           }}
        ]
      },
      {
        "width": 85, "height": 215,
        "view": {"stroke": null},
        "data": {"values": [{"label": "Depth, ft"}]},
        "mark": {"type": "text", "angle": 270, "fontSize": 19, "baseline": "middle", "align": "center"},
        "encoding": {
          "x": {"field": "label", "type": "nominal", "axis": {"orient": "top", "domain": true, "domainColor": "#111111", "domainWidth": 1.6, "labels": false, "ticks": false, "grid": false, "title": null}},
          "text": {"field": "label"}
        }
      },
      {
        "width": 283, "height": 215,
        "data": {"name": "hdrMid"},
        "layer": [
          {"mark": {"type": "rule", "strokeWidth": 2.2},
           "encoding": {
             "y": {"field": "curve", "type": "nominal", "bandPosition": 1, "axis": null, "scale": {"type": "band", "domain": ["Medium Induction", "Spherically Focused Resistivity Log", "Deep Induction"], "range": [0, 207], "paddingInner": 0, "paddingOuter": 0}},
             "color": {"field": "curve", "type": "nominal", "legend": null, "scale": {"domain": ["GeoSteering ROP","GeoSteering GR","Gamma Ray","Medium Induction","Spherically Focused Resistivity Log","Deep Induction","Button Resistivity","Bit Resistivity"], "range": ["#1faf65","#e83a52","#2f5fa7","#2f5fa7","#1faf65","#e83a52","#1faf65","#e83a52"]}},
             "strokeDash": {"field": "curve", "type": "nominal", "legend": null, "scale": {"domain": ["GeoSteering ROP","GeoSteering GR","Gamma Ray","Medium Induction","Spherically Focused Resistivity Log","Deep Induction","Button Resistivity","Bit Resistivity"], "range": [[1,0],[1,0],[1,0],[18,9],[1,0],[11,5],[1,0],[20,9]]}}
           }},
          {"transform": [{"filter": "isValid(datum.units)"}],
           "mark": {"type": "text", "fontSize": 19, "baseline": "middle"},
           "encoding": {
             "y": {"field": "curve", "type": "nominal", "bandPosition": 0.4, "axis": null, "scale": {"type": "band", "domain": ["Medium Induction", "Spherically Focused Resistivity Log", "Deep Induction"], "range": [0, 207], "paddingInner": 0, "paddingOuter": 0}},
             "text": {"field": "title"}
           }},
          {"transform": [{"filter": "!isValid(datum.units)"}],
           "mark": {"type": "text", "fontSize": 19, "baseline": "middle", "lineBreak": "\n", "lineHeight": 23},
           "encoding": {
             "y": {"field": "curve", "type": "nominal", "bandPosition": 0.5, "axis": null, "scale": {"type": "band", "domain": ["Medium Induction", "Spherically Focused Resistivity Log", "Deep Induction"], "range": [0, 207], "paddingInner": 0, "paddingOuter": 0}},
             "text": {"field": "title"}
           }},
          {"transform": [{"filter": "isValid(datum.units)"}],
           "mark": {"type": "text", "fontSize": 17.5, "baseline": "middle", "align": "left", "x": 0, "dx": 5},
           "encoding": {
             "y": {"field": "curve", "type": "nominal", "bandPosition": 0.835, "axis": null, "scale": {"type": "band", "domain": ["Medium Induction", "Spherically Focused Resistivity Log", "Deep Induction"], "range": [0, 207], "paddingInner": 0, "paddingOuter": 0}},
             "text": {"field": "lo"}
           }},
          {"transform": [{"filter": "isValid(datum.units)"}],
           "mark": {"type": "text", "fontSize": 17.5, "baseline": "middle", "align": "center"},
           "encoding": {
             "y": {"field": "curve", "type": "nominal", "bandPosition": 0.835, "axis": null, "scale": {"type": "band", "domain": ["Medium Induction", "Spherically Focused Resistivity Log", "Deep Induction"], "range": [0, 207], "paddingInner": 0, "paddingOuter": 0}},
             "text": {"field": "units"}
           }},
          {"transform": [{"filter": "isValid(datum.units)"}],
           "mark": {"type": "text", "fontSize": 17.5, "baseline": "middle", "align": "right", "x": "width", "dx": -5},
           "encoding": {
             "y": {"field": "curve", "type": "nominal", "bandPosition": 0.835, "axis": null, "scale": {"type": "band", "domain": ["Medium Induction", "Spherically Focused Resistivity Log", "Deep Induction"], "range": [0, 207], "paddingInner": 0, "paddingOuter": 0}},
             "text": {"field": "hi"}
           }}
        ]
      },
      {
        "width": 283, "height": 215,
        "data": {"name": "hdrRight"},
        "layer": [
          {"mark": {"type": "rule", "strokeWidth": 2.2},
           "encoding": {
             "y": {"field": "curve", "type": "nominal", "bandPosition": 1, "axis": null, "scale": {"type": "band", "domain": ["", "Button Resistivity", "Bit Resistivity"], "range": [0, 207], "paddingInner": 0, "paddingOuter": 0}},
             "color": {"field": "curve", "type": "nominal", "legend": null, "scale": {"domain": ["GeoSteering ROP","GeoSteering GR","Gamma Ray","Medium Induction","Spherically Focused Resistivity Log","Deep Induction","Button Resistivity","Bit Resistivity"], "range": ["#1faf65","#e83a52","#2f5fa7","#2f5fa7","#1faf65","#e83a52","#1faf65","#e83a52"]}},
             "strokeDash": {"field": "curve", "type": "nominal", "legend": null, "scale": {"domain": ["GeoSteering ROP","GeoSteering GR","Gamma Ray","Medium Induction","Spherically Focused Resistivity Log","Deep Induction","Button Resistivity","Bit Resistivity"], "range": [[1,0],[1,0],[1,0],[18,9],[1,0],[11,5],[1,0],[20,9]]}}
           }},
          {"transform": [{"filter": "isValid(datum.units)"}],
           "mark": {"type": "text", "fontSize": 19, "baseline": "middle"},
           "encoding": {
             "y": {"field": "curve", "type": "nominal", "bandPosition": 0.4, "axis": null, "scale": {"type": "band", "domain": ["", "Button Resistivity", "Bit Resistivity"], "range": [0, 207], "paddingInner": 0, "paddingOuter": 0}},
             "text": {"field": "title"}
           }},
          {"transform": [{"filter": "!isValid(datum.units)"}],
           "mark": {"type": "text", "fontSize": 19, "baseline": "middle"},
           "encoding": {
             "y": {"field": "curve", "type": "nominal", "bandPosition": 0.5, "axis": null, "scale": {"type": "band", "domain": ["", "Button Resistivity", "Bit Resistivity"], "range": [0, 207], "paddingInner": 0, "paddingOuter": 0}},
             "text": {"field": "title"}
           }},
          {"transform": [{"filter": "isValid(datum.units)"}],
           "mark": {"type": "text", "fontSize": 17.5, "baseline": "middle", "align": "left", "x": 0, "dx": 5},
           "encoding": {
             "y": {"field": "curve", "type": "nominal", "bandPosition": 0.835, "axis": null, "scale": {"type": "band", "domain": ["", "Button Resistivity", "Bit Resistivity"], "range": [0, 207], "paddingInner": 0, "paddingOuter": 0}},
             "text": {"field": "lo"}
           }},
          {"transform": [{"filter": "isValid(datum.units)"}],
           "mark": {"type": "text", "fontSize": 17.5, "baseline": "middle", "align": "center"},
           "encoding": {
             "y": {"field": "curve", "type": "nominal", "bandPosition": 0.835, "axis": null, "scale": {"type": "band", "domain": ["", "Button Resistivity", "Bit Resistivity"], "range": [0, 207], "paddingInner": 0, "paddingOuter": 0}},
             "text": {"field": "units"}
           }},
          {"transform": [{"filter": "isValid(datum.units)"}],
           "mark": {"type": "text", "fontSize": 17.5, "baseline": "middle", "align": "right", "x": "width", "dx": -5},
           "encoding": {
             "y": {"field": "curve", "type": "nominal", "bandPosition": 0.835, "axis": null, "scale": {"type": "band", "domain": ["", "Button Resistivity", "Bit Resistivity"], "range": [0, 207], "paddingInner": 0, "paddingOuter": 0}},
             "text": {"field": "hi"}
           }}
        ]
      }
    ]
  },
  {
    "spacing": 0,
    "bounds": "flush",
    "hconcat": [
      {
        "width": 279, "height": 677,
        "data": {"name": "logs"},
        "resolve": {"scale": {"x": "independent"}},
        "layer": [
          {"transform": [{"filter": "datum.curve === 'Gamma Ray'"}],
           "mark": {"type": "line", "strokeWidth": 2, "interpolate": "catmull-rom", "clip": true},
           "encoding": {
             "x": {"field": "value", "type": "quantitative", "scale": {"domain": [0, 150], "nice": false, "zero": false}, "axis": {"orient": "top", "values": [15,30,45,60,75,90,105,120,135], "grid": true, "gridColor": "#666666", "gridWidth": 1.3, "labels": false, "ticks": false, "domain": false, "title": null}},
             "y": {"field": "depth", "type": "quantitative", "scale": {"domain": [590, 710], "reverse": true, "nice": false, "zero": false}, "axis": {"values": [600,610,620,630,640,650,660,670,680,690,700], "grid": true, "gridColor": "#222222", "gridWidth": 1.3, "labels": false, "ticks": false, "domain": false, "title": null}},
             "order": {"field": "depth", "type": "quantitative"},
             "color": {"field": "curve", "type": "nominal", "legend": null, "scale": {"domain": ["GeoSteering ROP","GeoSteering GR","Gamma Ray","Medium Induction","Spherically Focused Resistivity Log","Deep Induction","Button Resistivity","Bit Resistivity"], "range": ["#1faf65","#e83a52","#2f5fa7","#2f5fa7","#1faf65","#e83a52","#1faf65","#e83a52"]}}
           }},
          {"transform": [{"filter": "datum.curve === 'GeoSteering GR'"}],
           "mark": {"type": "line", "strokeWidth": 2, "interpolate": "catmull-rom", "clip": true},
           "encoding": {
             "x": {"field": "value", "type": "quantitative", "scale": {"domain": [0, 150], "nice": false, "zero": false}, "axis": null},
             "y": {"field": "depth", "type": "quantitative", "scale": {"domain": [590, 710], "reverse": true, "nice": false, "zero": false}, "axis": {"values": [600,610,620,630,640,650,660,670,680,690,700], "grid": true, "gridColor": "#222222", "gridWidth": 1.3, "labels": false, "ticks": false, "domain": false, "title": null}},
             "order": {"field": "depth", "type": "quantitative"},
             "color": {"field": "curve", "type": "nominal", "legend": null, "scale": {"domain": ["GeoSteering ROP","GeoSteering GR","Gamma Ray","Medium Induction","Spherically Focused Resistivity Log","Deep Induction","Button Resistivity","Bit Resistivity"], "range": ["#1faf65","#e83a52","#2f5fa7","#2f5fa7","#1faf65","#e83a52","#1faf65","#e83a52"]}}
           }},
          {"transform": [{"filter": "datum.curve === 'GeoSteering ROP'"}],
           "mark": {"type": "line", "strokeWidth": 2, "interpolate": "linear", "clip": true},
           "encoding": {
             "x": {"field": "value", "type": "quantitative", "scale": {"domain": [0, 500], "reverse": true, "nice": false, "zero": false}, "axis": null},
             "y": {"field": "depth", "type": "quantitative", "scale": {"domain": [590, 710], "reverse": true, "nice": false, "zero": false}, "axis": {"values": [600,610,620,630,640,650,660,670,680,690,700], "grid": true, "gridColor": "#222222", "gridWidth": 1.3, "labels": false, "ticks": false, "domain": false, "title": null}},
             "order": {"field": "depth", "type": "quantitative"},
             "color": {"field": "curve", "type": "nominal", "legend": null, "scale": {"domain": ["GeoSteering ROP","GeoSteering GR","Gamma Ray","Medium Induction","Spherically Focused Resistivity Log","Deep Induction","Button Resistivity","Bit Resistivity"], "range": ["#1faf65","#e83a52","#2f5fa7","#2f5fa7","#1faf65","#e83a52","#1faf65","#e83a52"]}}
           }}
        ]
      },
      {
        "width": 76, "height": 677,
        "view": {"stroke": null},
        "data": {"name": "zones"},
        "mark": {"type": "text", "font": "DejaVu Serif", "fontWeight": "bold", "fontSize": 19, "align": "right", "baseline": "middle", "x": "width", "dx": -3, "color": "#111111"},
        "encoding": {
          "y": {"field": "mid", "type": "quantitative", "scale": {"domain": [590, 710], "reverse": true, "nice": false, "zero": false}, "axis": null},
          "text": {"field": "zone"}
        }
      },
      {
        "width": 9, "height": 677,
        "view": {"stroke": null},
        "data": {"name": "zones"},
        "mark": {"type": "rect", "color": "#e83a52"},
        "encoding": {
          "y": {"field": "top", "type": "quantitative", "scale": {"domain": [590, 710], "reverse": true, "nice": false, "zero": false}, "axis": null},
          "y2": {"field": "bottom"}
        }
      },
      {
        "width": 283, "height": 677,
        "data": {"name": "logs"},
        "layer": [
          {"transform": [{"filter": "datum.curve === 'Deep Induction'"}],
           "mark": {"type": "line", "strokeWidth": 2, "interpolate": "catmull-rom", "clip": true},
           "encoding": {
             "x": {"field": "value", "type": "quantitative", "scale": {"type": "log", "domain": [0.2, 20], "nice": false}, "axis": {"orient": "top", "values": [0.3,0.4,0.5,0.6,0.7,0.8,0.9,1,2,3,4,5,6,7,8,9,10], "grid": true, "gridColor": "#555555", "gridWidth": 1.3, "labels": false, "ticks": false, "domain": false, "title": null}},
             "y": {"field": "depth", "type": "quantitative", "scale": {"domain": [590, 710], "reverse": true, "nice": false, "zero": false}, "axis": {"values": [600,610,620,630,640,650,660,670,680,690,700], "grid": true, "gridColor": "#222222", "gridWidth": 1.3, "labels": true, "labelExpr": "datum.value === 600 || datum.value === 700 ? 'X' + datum.value : ''", "labelFont": "Liberation Sans", "labelFontSize": 17, "labelColor": "#231f20", "labelPadding": 21, "labelOverlap": false, "labelBaseline": "middle", "ticks": false, "tickSize": 0, "domain": false, "title": null}},
             "order": {"field": "depth", "type": "quantitative"},
             "color": {"field": "curve", "type": "nominal", "legend": null, "scale": {"domain": ["GeoSteering ROP","GeoSteering GR","Gamma Ray","Medium Induction","Spherically Focused Resistivity Log","Deep Induction","Button Resistivity","Bit Resistivity"], "range": ["#1faf65","#e83a52","#2f5fa7","#2f5fa7","#1faf65","#e83a52","#1faf65","#e83a52"]}},
             "strokeDash": {"field": "curve", "type": "nominal", "legend": null, "scale": {"domain": ["GeoSteering ROP","GeoSteering GR","Gamma Ray","Medium Induction","Spherically Focused Resistivity Log","Deep Induction","Button Resistivity","Bit Resistivity"], "range": [[1,0],[1,0],[1,0],[18,9],[1,0],[11,5],[1,0],[20,9]]}}
           }},
          {"transform": [{"filter": "datum.curve === 'Medium Induction'"}],
           "mark": {"type": "line", "strokeWidth": 2, "interpolate": "catmull-rom", "clip": true},
           "encoding": {
             "x": {"field": "value", "type": "quantitative", "scale": {"type": "log", "domain": [0.2, 20], "nice": false}, "axis": {"orient": "top", "values": [0.3,0.4,0.5,0.6,0.7,0.8,0.9,1,2,3,4,5,6,7,8,9,10], "grid": true, "gridColor": "#555555", "gridWidth": 1.3, "labels": false, "ticks": false, "domain": false, "title": null}},
             "y": {"field": "depth", "type": "quantitative", "scale": {"domain": [590, 710], "reverse": true, "nice": false, "zero": false}, "axis": {"values": [600,610,620,630,640,650,660,670,680,690,700], "grid": true, "gridColor": "#222222", "gridWidth": 1.3, "labels": true, "labelExpr": "datum.value === 600 || datum.value === 700 ? 'X' + datum.value : ''", "labelFont": "Liberation Sans", "labelFontSize": 17, "labelColor": "#231f20", "labelPadding": 21, "labelOverlap": false, "labelBaseline": "middle", "ticks": false, "tickSize": 0, "domain": false, "title": null}},
             "order": {"field": "depth", "type": "quantitative"},
             "color": {"field": "curve", "type": "nominal", "legend": null, "scale": {"domain": ["GeoSteering ROP","GeoSteering GR","Gamma Ray","Medium Induction","Spherically Focused Resistivity Log","Deep Induction","Button Resistivity","Bit Resistivity"], "range": ["#1faf65","#e83a52","#2f5fa7","#2f5fa7","#1faf65","#e83a52","#1faf65","#e83a52"]}},
             "strokeDash": {"field": "curve", "type": "nominal", "legend": null, "scale": {"domain": ["GeoSteering ROP","GeoSteering GR","Gamma Ray","Medium Induction","Spherically Focused Resistivity Log","Deep Induction","Button Resistivity","Bit Resistivity"], "range": [[1,0],[1,0],[1,0],[18,9],[1,0],[11,5],[1,0],[20,9]]}}
           }},
          {"transform": [{"filter": "datum.curve === 'Spherically Focused Resistivity Log'"}],
           "mark": {"type": "line", "strokeWidth": 2, "interpolate": "catmull-rom", "clip": true},
           "encoding": {
             "x": {"field": "value", "type": "quantitative", "scale": {"type": "log", "domain": [0.2, 20], "nice": false}, "axis": {"orient": "top", "values": [0.3,0.4,0.5,0.6,0.7,0.8,0.9,1,2,3,4,5,6,7,8,9,10], "grid": true, "gridColor": "#555555", "gridWidth": 1.3, "labels": false, "ticks": false, "domain": false, "title": null}},
             "y": {"field": "depth", "type": "quantitative", "scale": {"domain": [590, 710], "reverse": true, "nice": false, "zero": false}, "axis": {"values": [600,610,620,630,640,650,660,670,680,690,700], "grid": true, "gridColor": "#222222", "gridWidth": 1.3, "labels": true, "labelExpr": "datum.value === 600 || datum.value === 700 ? 'X' + datum.value : ''", "labelFont": "Liberation Sans", "labelFontSize": 17, "labelColor": "#231f20", "labelPadding": 21, "labelOverlap": false, "labelBaseline": "middle", "ticks": false, "tickSize": 0, "domain": false, "title": null}},
             "order": {"field": "depth", "type": "quantitative"},
             "color": {"field": "curve", "type": "nominal", "legend": null, "scale": {"domain": ["GeoSteering ROP","GeoSteering GR","Gamma Ray","Medium Induction","Spherically Focused Resistivity Log","Deep Induction","Button Resistivity","Bit Resistivity"], "range": ["#1faf65","#e83a52","#2f5fa7","#2f5fa7","#1faf65","#e83a52","#1faf65","#e83a52"]}},
             "strokeDash": {"field": "curve", "type": "nominal", "legend": null, "scale": {"domain": ["GeoSteering ROP","GeoSteering GR","Gamma Ray","Medium Induction","Spherically Focused Resistivity Log","Deep Induction","Button Resistivity","Bit Resistivity"], "range": [[1,0],[1,0],[1,0],[18,9],[1,0],[11,5],[1,0],[20,9]]}}
           }}
        ]
      },
      {
        "width": 283, "height": 677,
        "data": {"name": "logs"},
        "layer": [
          {"transform": [{"filter": "datum.curve === 'Bit Resistivity'"}],
           "mark": {"type": "line", "strokeWidth": 2, "interpolate": "catmull-rom", "clip": true},
           "encoding": {
             "x": {"field": "value", "type": "quantitative", "scale": {"type": "log", "domain": [0.2, 20], "nice": false}, "axis": {"orient": "top", "values": [0.3,0.4,0.5,0.6,0.7,0.8,0.9,1,2,3,4,5,6,7,8,9,10], "grid": true, "gridColor": "#555555", "gridWidth": 1.3, "labels": false, "ticks": false, "domain": false, "title": null}},
             "y": {"field": "depth", "type": "quantitative", "scale": {"domain": [590, 710], "reverse": true, "nice": false, "zero": false}, "axis": {"values": [600,610,620,630,640,650,660,670,680,690,700], "grid": true, "gridColor": "#222222", "gridWidth": 1.3, "labels": false, "ticks": false, "domain": false, "title": null}},
             "order": {"field": "depth", "type": "quantitative"},
             "color": {"field": "curve", "type": "nominal", "legend": null, "scale": {"domain": ["GeoSteering ROP","GeoSteering GR","Gamma Ray","Medium Induction","Spherically Focused Resistivity Log","Deep Induction","Button Resistivity","Bit Resistivity"], "range": ["#1faf65","#e83a52","#2f5fa7","#2f5fa7","#1faf65","#e83a52","#1faf65","#e83a52"]}},
             "strokeDash": {"field": "curve", "type": "nominal", "legend": null, "scale": {"domain": ["GeoSteering ROP","GeoSteering GR","Gamma Ray","Medium Induction","Spherically Focused Resistivity Log","Deep Induction","Button Resistivity","Bit Resistivity"], "range": [[1,0],[1,0],[1,0],[18,9],[1,0],[11,5],[1,0],[20,9]]}}
           }},
          {"transform": [{"filter": "datum.curve === 'Button Resistivity'"}],
           "mark": {"type": "line", "strokeWidth": 2, "interpolate": "catmull-rom", "clip": true},
           "encoding": {
             "x": {"field": "value", "type": "quantitative", "scale": {"type": "log", "domain": [0.2, 20], "nice": false}, "axis": {"orient": "top", "values": [0.3,0.4,0.5,0.6,0.7,0.8,0.9,1,2,3,4,5,6,7,8,9,10], "grid": true, "gridColor": "#555555", "gridWidth": 1.3, "labels": false, "ticks": false, "domain": false, "title": null}},
             "y": {"field": "depth", "type": "quantitative", "scale": {"domain": [590, 710], "reverse": true, "nice": false, "zero": false}, "axis": {"values": [600,610,620,630,640,650,660,670,680,690,700], "grid": true, "gridColor": "#222222", "gridWidth": 1.3, "labels": false, "ticks": false, "domain": false, "title": null}},
             "order": {"field": "depth", "type": "quantitative"},
             "color": {"field": "curve", "type": "nominal", "legend": null, "scale": {"domain": ["GeoSteering ROP","GeoSteering GR","Gamma Ray","Medium Induction","Spherically Focused Resistivity Log","Deep Induction","Button Resistivity","Bit Resistivity"], "range": ["#1faf65","#e83a52","#2f5fa7","#2f5fa7","#1faf65","#e83a52","#1faf65","#e83a52"]}},
             "strokeDash": {"field": "curve", "type": "nominal", "legend": null, "scale": {"domain": ["GeoSteering ROP","GeoSteering GR","Gamma Ray","Medium Induction","Spherically Focused Resistivity Log","Deep Induction","Button Resistivity","Bit Resistivity"], "range": [[1,0],[1,0],[1,0],[18,9],[1,0],[11,5],[1,0],[20,9]]}}
           }}
        ]
      }
    ]
  }
]
}
